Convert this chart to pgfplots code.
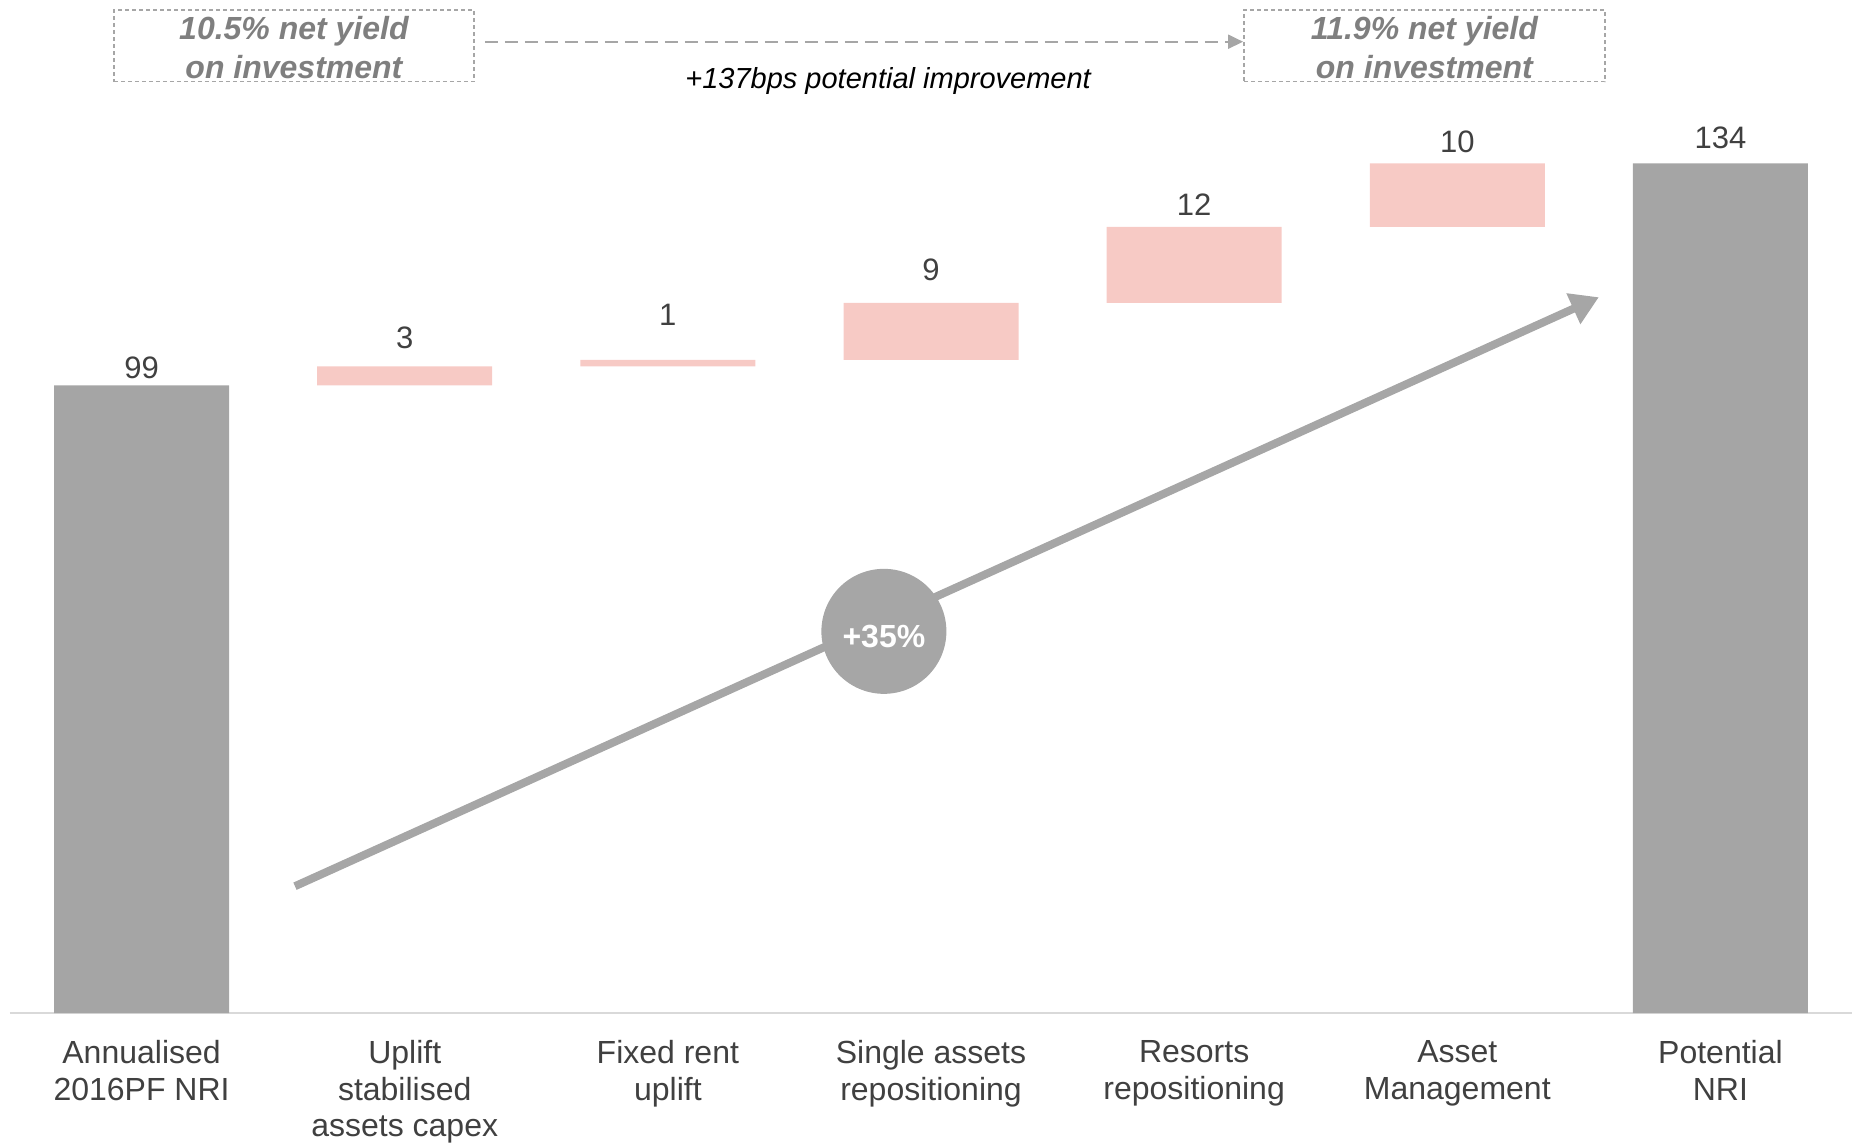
\documentclass[border=0pt]{standalone}
\usepackage{pgfplots}
\pgfplotsset{compat=1.18}
\usepackage{pgfplotstable}
\usepackage{fontspec}
\setmainfont{Liberation Sans}
\usetikzlibrary{arrows.meta}

\definecolor{bargrey}{HTML}{A5A5A5}
\definecolor{barpink}{HTML}{F7CAC5}
\definecolor{axisline}{HTML}{D9D9D9}
\definecolor{textdark}{HTML}{404040}
\definecolor{textgrey}{HTML}{7F7F7F}
\definecolor{arrowgrey}{HTML}{A6A6A6}

% Net rental income bridge: start, five uplifts, end.
% base = invisible offset under each floating step
% dg/dp = gap (pt) between bar top and its value label
\pgfplotstableread{
x  base  grey  pink  lg    lp    dg    dp
0  0     99    0     99    {}    3.35  0
1  99    0     3     {}    3     0     8.8
2  102   0     1     {}    1     0     17.3
3  103   0     9     {}    9     0     11.45
4  112   0     12    {}    12    0     5.7
5  124   0     10    {}    10    0     5.3
6  0     134   0     134   {}    7.45  0
}\bridge

\begin{document}
\begin{tikzpicture}
\useasboundingbox (-5pt,-64.5pt) rectangle (923pt,506.5pt);
\begin{axis}[
  scale only axis,
  width=921pt, height=506.5pt,
  xmin=-0.5, xmax=6.5,
  ymin=0, ymax=159.78,
  clip=false,
  ybar stacked,
  bar width=0.665,
  axis x line*=bottom,
  axis y line=none,
  x axis line style={draw=axisline, line width=1pt},
  xtick={0,1,2,3,4,5,6},
  xticklabels={
    Annualised\\2016PF NRI,
    Uplift\\stabilised\\assets capex,
    Fixed rent\\uplift,
    Single assets\\repositioning,
    Resorts\\repositioning,
    Asset\\Management,
    Potential\\NRI},
  major tick length=0pt,
  xticklabel style={align=center, anchor=north, inner sep=0pt, yshift=-13.45pt,
    font=\fontsize{16}{18.35}\selectfont, text=textdark},
  ytick=\empty,
]
% invisible offsets
\addplot[draw=none, fill=none] table[x=x, y=base] {\bridge};
% start and end totals (labels lifted from segment middle to its top)
\addplot[draw=none, fill=bargrey,
  point meta=explicit symbolic,
  nodes near coords,
  visualization depends on={\thisrow{dg} \as \labshift},
  visualization depends on={\thisrow{grey}/2 \as \halfseg},
  nodes near coords style={anchor=base, inner sep=0pt,
    shift={(axis direction cs:0,\halfseg)}, yshift=\labshift pt,
    font=\fontsize{15.5}{18}\selectfont, text=textdark}]
  table[x=x, y=grey, meta=lg] {\bridge};
% uplift steps
\addplot[draw=none, fill=barpink,
  point meta=explicit symbolic,
  nodes near coords,
  visualization depends on={\thisrow{dp} \as \labshift},
  visualization depends on={\thisrow{pink}/2 \as \halfseg},
  nodes near coords style={anchor=base, inner sep=0pt,
    shift={(axis direction cs:0,\halfseg)}, yshift=\labshift pt,
    font=\fontsize{15.5}{18}\selectfont, text=textdark}]
  table[x=x, y=pink, meta=lp] {\bridge};

% growth arrow
\draw[arrowgrey, line width=4pt, -{Triangle[length=14pt, width=16pt]}]
  (axis cs:0.583,20.0) -- (axis cs:5.538,112.9);
\coordinate (badge) at (axis cs:2.821,60.2);

% yield boxes
\node[draw=arrowgrey, line width=0.7pt, dash pattern=on 2pt off 1.5pt,
  minimum width=180pt, minimum height=35.85pt, inner sep=0pt]
  at (axis cs:0.579,152.55) {};
\node[align=center, inner sep=0pt, text=textgrey,
  font=\fontsize{16}{19.4}\selectfont\bfseries\itshape]
  at (axis cs:0.579,152.3) {10.5\% net yield\\on investment};
\node[draw=arrowgrey, line width=0.7pt, dash pattern=on 2pt off 1.5pt,
  minimum width=180.5pt, minimum height=35.85pt, inner sep=0pt]
  at (axis cs:4.875,152.55) {};
\node[align=center, inner sep=0pt, text=textgrey,
  font=\fontsize{16}{19.4}\selectfont\bfseries\itshape]
  at (axis cs:4.875,152.3) {11.9\% net yield\\on investment};
\draw[arrowgrey, line width=1pt, dash pattern=on 6.5pt off 3.5pt,
  -{Triangle[length=7.5pt, width=7pt]}]
  (axis cs:1.305,153.2) -- (axis cs:4.186,153.2);
\node[anchor=base, font=\fontsize{14.5}{17}\selectfont\itshape]
  at (axis cs:2.837,145.8) {+137bps potential improvement};
\end{axis}
% growth badge on top of the arrow
\fill[arrowgrey] (badge) circle[radius=31.25pt];
\node[text=white, font=\fontsize{16}{18}\selectfont\bfseries, yshift=-2.4pt]
  at (badge) {+35\%};
\end{tikzpicture}
\end{document}
